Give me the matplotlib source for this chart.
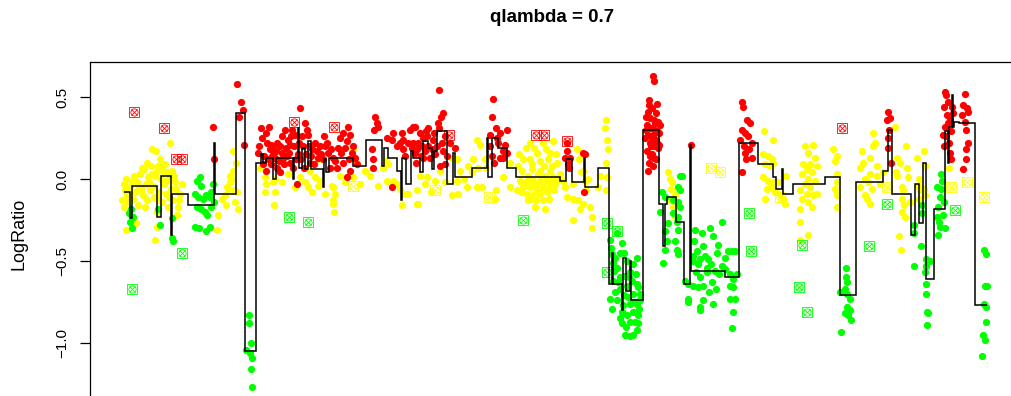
import matplotlib
matplotlib.use("Agg")
import matplotlib.pyplot as plt

plt.rcParams['font.family'] = ['Liberation Sans', 'DejaVu Sans']

title = "qlambda = 0.7"
ylabel = "LogRatio"
yticks = [-1.0, -0.5, 0.0, 0.5]
ytick_labels = ["\u22121.0", "\u22120.5", "0.0", "0.5"]

# ---- probes (position, log ratio) by status colour ----
red_pos = [213, 214, 237, 241, 243, 239, 244,
           261, 269, 262, 267, 271, 273, 277, 270, 273, 268, 271, 277, 280, 288, 290, 292, 295, 300,
           305, 307, 308, 303, 306, 310, 287, 290, 293, 297, 258, 264, 266, 275, 282, 284, 298, 301,
           312, 315, 318, 320, 282, 285, 279,
           325, 328, 333, 338, 340, 343, 347, 348, 350, 353, 355, 323, 330, 337, 343, 350, 347,
           375, 377, 374, 378, 372, 373, 373, 387, 392, 393, 397, 400, 403, 392, 413, 412, 415, 402,
           403, 410, 418, 421, 425, 428, 416, 420,
           439, 443, 441, 438, 439, 434, 428, 427, 426, 415, 413, 417, 422, 423, 433, 437, 442, 443,
           430, 440, 445, 455, 432, 445, 450,
           493, 492, 496, 490, 500, 507, 498, 503, 490, 507, 492, 500, 503, 494,
           567, 567, 570, 565, 568, 583, 585, 584, 569,
           653, 654, 649, 657, 648, 652, 656, 650, 654, 658, 647, 651, 655, 659, 648, 652, 656, 650,
           654, 658, 647, 652, 656, 649, 653, 645, 660, 646, 657,
           691,
           742, 743, 747, 750, 742, 745, 748, 752, 744, 749, 752, 746, 742, 740, 745,
           888, 890, 887, 889, 888, 888, 891,
           945, 946, 948, 944, 947, 950, 945, 951, 946, 949, 944, 950, 952, 953, 948, 943, 951,
           965, 963, 967, 962, 968, 965, 966, 968, 966, 966, 963,
           259, 263, 266, 272, 276, 280, 283, 286, 289, 291, 294, 296, 299, 302, 304, 309, 311, 314,
           317, 321, 324, 327, 331, 335, 341, 345, 349, 352, 357, 405, 408, 423, 435, 447, 497, 505,
           646, 649, 651, 653, 655, 657, 659, 650, 654, 648]
red_val = [0.32, 0.12, 0.58, 0.47, 0.42, 0.38, 0.21,
           0.31, 0.32, 0.25, 0.22, 0.21, 0.20, 0.22, 0.18, 0.17, 0.12, 0.09, 0.07, 0.04, 0.24, 0.21, 0.30, 0.27, 0.43,
           0.34, 0.30, 0.27, 0.20, 0.15, 0.10, 0.14, 0.10, 0.07, -0.03, 0.16, 0.14, 0.05, 0.13, 0.16, 0.09, 0.15, 0.12,
           0.18, 0.22, 0.13, 0.20, 0.26, 0.30, 0.11,
           0.20, 0.16, 0.13, 0.19, 0.25, 0.28, 0.23, 0.32, 0.27, 0.20, 0.13, 0.12, 0.07, 0.07, 0.10, 0.05, 0.01,
           0.38, 0.34, 0.30, 0.32, 0.18, 0.12, 0.07, 0.25, 0.24, 0.28, 0.20, 0.22, 0.18, -0.05, 0.32, 0.19, 0.16, 0.28,
           0.24, 0.30, 0.22, 0.14, 0.17, 0.20, 0.10, 0.28,
           0.54, 0.40, 0.38, 0.34, 0.31, 0.28, 0.31, 0.26, 0.29, 0.32, 0.22, 0.18, 0.20, 0.13, 0.24, 0.20, 0.22, 0.17,
           0.13, 0.08, 0.09, 0.19, 0.18, 0.26, 0.22,
           0.49, 0.38, 0.31, 0.27, 0.28, 0.30, 0.22, 0.17, 0.20, 0.16, 0.14, 0.13, 0.13, 0.10,
           0.22, 0.17, 0.13, 0.13, 0.09, 0.16, 0.15, -0.08, 0.07,
           0.63, 0.60, 0.48, 0.46, 0.41, 0.43, 0.40, 0.37, 0.36, 0.35, 0.33, 0.31, 0.30, 0.28, 0.27, 0.25, 0.24, 0.22,
           0.20, 0.19, 0.17, 0.15, 0.12, 0.10, 0.08, 0.25, 0.33, 0.38, 0.22,
           0.21,
           0.47, 0.44, 0.36, 0.34, 0.30, 0.28, 0.26, 0.22, 0.20, 0.18, 0.13, 0.12, 0.04, 0.24, 0.16,
           0.41, 0.37, 0.36, 0.30, 0.25, 0.19, 0.10,
           0.53, 0.51, 0.47, 0.44, 0.39, 0.36, 0.32, 0.29, 0.26, 0.22, 0.20, 0.16, 0.44, 0.40, 0.34, 0.27, 0.12,
           0.52, 0.45, 0.43, 0.39, 0.41, 0.35, 0.30, 0.22, 0.18, 0.12, 0.06,
           0.20, 0.09, 0.28, 0.14, 0.17, 0.20, 0.13, 0.19, 0.16, 0.26, 0.20, 0.12, 0.22, 0.26, 0.07, 0.20, 0.14, 0.09,
           0.17, 0.15, 0.26, 0.22, 0.18, 0.11, 0.16, 0.19, 0.12, 0.16, 0.09, 0.14, 0.22, 0.25, 0.15, 0.14, 0.25, 0.21,
           0.30, 0.45, 0.20, 0.27, 0.34, 0.29, 0.21, 0.14, 0.13, 0.05]

yellow_pos = [126, 124, 125, 127, 128, 124, 130, 132, 133, 135, 137, 138, 140, 141, 143, 144, 146, 147, 148, 150,
              151, 152, 153, 154, 155, 156, 157, 157, 159, 160, 161, 162, 163, 164, 165, 166, 167, 168, 169, 170,
              171, 172, 173, 175, 176, 177, 178, 180, 182, 155, 157, 136, 130, 122,
              217, 218, 222, 225, 226, 228, 230, 232, 233, 234, 235, 237, 238, 227, 236, 233, 230,
              260, 265, 266, 273, 275, 274, 265, 275, 295, 308, 318, 325, 300, 310, 315, 320, 333, 335, 333,
              353, 355, 353, 383, 387, 393, 397, 400, 405, 408, 402, 417, 322, 330, 318, 282, 288, 305, 312,
              340, 345, 365, 360, 370, 378, 386, 388, 332, 333, 334,
              418, 417, 427, 435, 440, 452, 457, 460, 457, 452, 458, 467, 477, 482, 472, 477, 480, 473, 478,
              485, 486, 496, 495, 510, 517, 503, 510, 445, 420, 425, 431, 464, 468,
              530, 543, 553, 550, 537, 523, 530, 540, 548, 557, 522, 532, 540, 550, 520, 527, 533, 540, 547,
              553, 523, 530, 537, 543, 550, 527, 533, 540, 547, 530, 543, 535, 545, 525, 535, 545, 555, 528,
              538, 518, 556,
              567, 573, 578, 583, 580, 590, 592, 592, 573, 563, 565, 573, 583, 585, 588, 577, 579, 581, 586, 560,
              606, 605, 607, 608, 606, 607, 606, 600, 598,
              668, 672, 671, 675, 670, 673, 675, 670,
              764, 773, 763, 768, 772, 765, 770, 773, 763, 768, 773, 767, 772, 775, 765, 778, 775, 780, 785, 783, 786,
              805, 813, 808, 815, 803, 810, 817, 807, 812, 802, 808, 815, 805, 810, 800, 807, 813, 802, 808, 812,
              800, 817, 800, 800, 808,
              833, 837, 835, 837, 837, 835, 837, 837,
              860, 863, 870, 873, 875, 873, 860, 865, 870, 877, 872, 865, 867, 870, 877, 880, 883, 862, 868,
              895, 897, 896, 897, 902, 903, 902, 904, 902, 905, 899, 901, 907, 908, 917, 919, 918, 920, 924, 925,
              924, 925, 919, 910, 949, 906, 900,
              519, 526, 534, 546, 552, 557, 521, 528, 536, 549, 554, 532, 544, 538, 551,
              126, 129, 134, 139, 142, 145, 149, 152, 158, 162, 166, 169, 174, 179, 147, 158]
yellow_val = [-0.31, -0.03, -0.07, -0.10, -0.14, -0.17, -0.05, -0.01, -0.12, -0.08, -0.02, -0.16, 0.03, -0.06, -0.10, 0.06, -0.03, -0.13, 0.01, -0.07,
              0.08, 0.18, -0.04, -0.11, 0.02, 0.17, -0.20, 0.05, -0.08, 0.12, 0.00, -0.14, 0.05, -0.03, 0.09, -0.09, 0.04, -0.17, 0.00, 0.22,
              -0.06, 0.05, -0.13, -0.02, -0.06, -0.22, -0.17, -0.09, -0.03, -0.37, -0.29, -0.27, -0.19, -0.13,
              -0.31, -0.22, -0.12, -0.10, -0.16, -0.06, -0.02, 0.00, 0.05, -0.07, -0.14, -0.08, -0.18, -0.05, 0.10, 0.17, 0.02,
              0.07, 0.01, -0.03, -0.02, 0.00, -0.16, -0.08, -0.08, -0.05, -0.05, -0.04, -0.09, 0.01, 0.05, 0.01, -0.01, -0.05, -0.09, -0.13,
              0.18, 0.12, 0.01, 0.07, -0.01, -0.01, -0.03, -0.06, -0.09, -0.09, -0.16, -0.15, 0.12, 0.07, 0.12, -0.02, 0.03, -0.02, -0.08,
              0.02, -0.02, 0.05, -0.03, 0.02, -0.04, 0.11, 0.09, -0.04, -0.15, -0.20,
              -0.15, -0.07, 0.01, -0.01, 0.05, 0.13, 0.12, 0.05, -0.01, -0.10, -0.09, -0.05, -0.05, -0.05, 0.04, 0.24, 0.21, 0.12, 0.07,
              0.12, 0.07, -0.07, -0.12, -0.05, -0.07, 0.01, 0.10, -0.02, 0.02, -0.03, -0.08, 0.00, 0.08,
              0.22, 0.22, 0.23, 0.16, 0.16, 0.12, 0.12, 0.11, 0.12, 0.10, 0.05, 0.06, 0.05, 0.05, -0.01, -0.01, -0.01, -0.01, -0.01,
              0.01, -0.05, -0.05, -0.06, -0.05, -0.05, -0.09, -0.10, -0.09, -0.08, -0.12, -0.13, -0.17, -0.18, -0.03, -0.03, 0.02, -0.03, 0.02,
              -0.07, 0.08, 0.15,
              -0.11, -0.12, -0.13, -0.15, -0.18, -0.17, -0.23, -0.30, -0.25, -0.01, -0.05, -0.03, 0.05, -0.01, 0.00, 0.18, 0.12, 0.04, -0.07, 0.03,
              0.36, 0.31, 0.24, 0.18, 0.10, 0.01, -0.07, 0.02, -0.05,
              0.04, -0.02, -0.06, -0.10, -0.13, -0.17, -0.23, 0.00,
              0.29, 0.24, 0.15, 0.14, 0.12, 0.09, 0.08, 0.10, 0.01, -0.01, -0.02, -0.06, -0.05, -0.08, -0.12, -0.02, -0.07, -0.10, -0.15, -0.12, 0.02,
              0.20, 0.21, 0.16, 0.13, 0.09, 0.09, 0.08, 0.06, 0.04, 0.03, 0.00, -0.01, -0.03, -0.05, -0.07, -0.09, -0.10, -0.12, -0.14, -0.17,
              -0.18, -0.09, -0.26, -0.37, -0.34,
              0.18, 0.14, 0.11, 0.03, -0.02, -0.06, -0.10, -0.17,
              0.07, 0.10, 0.13, 0.28, 0.22, 0.20, -0.05, 0.00, 0.03, 0.02, -0.06, -0.10, -0.12, -0.15, 0.08, -0.03, 0.04, 0.17, -0.02,
              0.32, 0.13, 0.04, 0.02, -0.05, -0.07, -0.12, -0.16, -0.20, -0.23, -0.35, -0.43, 0.07, 0.01, 0.13, 0.00, -0.04, -0.07, 0.17, 0.08,
              -0.06, -0.10, -0.12, -0.14, 0.07, 0.20, 0.10,
              0.15, 0.19, 0.19, 0.18, 0.08, 0.00, -0.08, -0.13, -0.13, -0.12, -0.07, 0.09, 0.08, 0.03, -0.02,
              0.00, -0.09, 0.02, -0.05, 0.07, -0.17, -0.02, 0.03, -0.12, 0.08, -0.01, -0.11, 0.02, -0.13, 0.10, 0.08]

green_pos = [129, 130, 132, 133, 131, 160, 172, 172, 173, 158, 197, 200, 201, 195, 198, 203, 206, 210, 211, 197,
             201, 205, 207, 211, 214, 195, 199, 206, 210, 213, 249, 249, 246, 250, 251, 252, 251, 252,
             610, 611, 612, 613, 622, 624, 627, 633, 637, 617, 620, 630, 637, 613, 620, 627, 633, 640, 638, 610,
             617, 623, 630, 637, 640, 612, 622, 627, 633, 638, 622, 630, 635, 638, 637, 625, 630, 633, 615, 625,
             617, 620,
             680, 682, 678, 680, 662, 665, 673, 678, 680, 673, 678, 677, 678, 665, 667, 665, 663, 675, 677, 678,
             685, 688, 660, 668,
             695, 702, 710, 722, 713, 703, 697, 693, 700, 708, 717, 722, 715, 707, 698, 693, 700, 707, 712, 703,
             698, 693, 688, 688, 700, 700, 713, 703, 728, 732, 735, 730, 733, 737, 730, 733, 730, 735, 733, 732,
             718, 725,
             846, 846, 847, 845, 840, 847, 850, 847, 850, 845, 848, 851, 841,
             914, 914, 914, 922, 922, 921, 926, 930, 926, 925, 926, 926, 927, 928, 927, 937, 941, 940, 938, 937,
             940, 945, 938, 942, 944, 943, 939, 941,
             984, 986, 985, 987, 984, 986, 986, 983, 985, 982,
             614, 618, 624, 628, 632, 636, 639, 626, 620, 615, 629, 634,
             696, 705, 711, 719, 694, 709, 716, 725]
green_val = [-0.21, -0.26, -0.30, -0.23, -0.18, -0.28, -0.24, -0.36, -0.38, -0.18, -0.01, 0.01, -0.04, -0.09, -0.11, -0.12, -0.10, -0.11, -0.08, -0.17,
             -0.18, -0.20, -0.22, -0.17, -0.14, -0.29, -0.30, -0.32, -0.29, -0.03, -0.83, -0.88, -1.04, -1.06, -1.00, -1.09, -1.16, -1.27,
             -0.37, -0.42, -0.46, -0.51, -0.39, -0.45, -0.50, -0.52, -0.48, -0.54, -0.60, -0.57, -0.64, -0.62, -0.67, -0.65, -0.70, -0.70, -0.66, -0.73,
             -0.74, -0.77, -0.76, -0.76, -0.74, -0.79, -0.81, -0.83, -0.81, -0.83, -0.88, -0.87, -0.87, -0.88, -0.92, -0.95, -0.96, -0.95, -0.69, -0.59,
             -0.33, -0.45,
             0.02, 0.02, -0.05, -0.07, -0.08, -0.11, -0.13, -0.14, -0.17, -0.21, -0.23, -0.26, -0.31, -0.32, -0.38, -0.43, -0.51, -0.38, -0.43, -0.46,
             -0.62, -0.64, -0.20, -0.27,
             -0.31, -0.33, -0.30, -0.26, -0.35, -0.41, -0.44, -0.47, -0.49, -0.49, -0.45, -0.53, -0.56, -0.54, -0.52, -0.50, -0.60, -0.57, -0.63, -0.65,
             -0.66, -0.65, -0.73, -0.75, -0.78, -0.80, -0.76, -0.74, -0.44, -0.44, -0.44, -0.58, -0.61, -0.58, -0.65, -0.66, -0.73, -0.73, -0.81, -0.91,
             -0.40, -0.55,
             -0.54, -0.60, -0.63, -0.67, -0.69, -0.70, -0.73, -0.78, -0.80, -0.82, -0.83, -0.86, -0.93,
             -0.28, -0.33, -0.53, -0.16, -0.21, -0.41, -0.49, -0.50, -0.53, -0.57, -0.64, -0.70, -0.81, -0.82, -0.89, -0.05, -0.06, -0.11, -0.17, -0.23,
             -0.29, -0.30, -0.34, -0.01, -0.14, -0.22, -0.26, 0.03,
             -0.43, -0.46, -0.65, -0.65, -0.76, -0.78, -0.87, -0.95, -0.98, -1.08,
             -0.56, -0.63, -0.71, -0.72, -0.62, -0.58, -0.79, -0.90, -0.85, -0.48, -0.60, -0.75,
             -0.57, -0.47, -0.52, -0.58, -0.38, -0.69, -0.67, -0.48]

# ---- outliers ----
out_red_pos = [134, 164, 176, 182, 294, 334, 449, 536, 544, 567, 842]
out_red_val = [0.41, 0.31, 0.12, 0.12, 0.35, 0.32, 0.27, 0.27, 0.27, 0.23, 0.31]
out_yellow_pos = [353, 435, 489, 711, 720, 780, 887, 951, 967, 984]
out_yellow_val = [-0.04, -0.07, -0.11, 0.07, 0.04, -0.11, -0.05, -0.05, -0.02, -0.11]
out_green_pos = [182, 132, 289, 308, 523, 607, 617, 607, 749, 751, 802, 799, 807, 869, 887, 955]
out_green_val = [-0.45, -0.67, -0.23, -0.26, -0.25, -0.27, -0.32, -0.57, -0.21, -0.44, -0.40, -0.66, -0.81, -0.41, -0.15, -0.19]

# ---- smoothed segmentation (start of each segment, level) ----
seg_start = [124, 130, 131.5, 157, 161, 171, 172, 188, 214, 215,
             236, 245, 256, 261, 263, 266, 273, 276, 293, 294,
             298, 299, 302, 305, 308, 311, 323, 324, 326, 329,
             353, 366, 382, 384, 388, 397, 401, 402, 406, 411,
             413, 420, 423, 428, 432, 434, 437, 447, 453, 455,
             472, 487, 488, 492, 498, 507, 516, 560, 566, 572,
             584, 585, 598, 609, 612, 613, 622, 623, 626, 630,
             631, 643, 659, 663, 665, 667, 676, 684, 690, 691,
             725, 739, 758, 773, 776, 782, 783, 793, 825, 840,
             856, 883, 888, 892, 911, 915, 919, 923, 926, 934,
             945, 948, 949, 952, 953, 954, 959, 975]
seg_level = [-0.08, -0.24, -0.04, -0.23, 0.02, -0.34, -0.09, -0.16, 0.22, -0.09,
             0.40, -1.05, 0.10, 0.15, 0.10, 0.13, 0.00, 0.13, 0.00, 0.13,
             0.31, 0.07, 0.19, 0.06, 0.23, 0.06, -0.05, 0.12, 0.04, 0.13,
             0.08, 0.24, 0.08, 0.19, 0.13, 0.05, -0.13, 0.13, -0.03, 0.17,
             0.13, 0.04, 0.23, 0.19, 0.06, 0.17, 0.29, -0.03, 0.16, 0.01,
             0.07, 0.25, 0.01, 0.25, 0.19, 0.07, 0.01, -0.01, 0.12, -0.02,
             0.13, -0.05, 0.07, -0.64, -0.45, -0.64, -0.80, -0.48, -0.68, -0.50,
             -0.74, 0.30, -0.15, -0.41, -0.15, -0.11, -0.26, -0.64, 0.21, -0.56,
             -0.60, 0.22, 0.09, 0.01, -0.06, 0.06, -0.09, -0.03, 0.01, -0.71,
             -0.02, 0.05, 0.30, -0.09, -0.34, -0.03, -0.27, 0.10, -0.61, -0.18,
             0.29, 0.10, 0.32, 0.51, 0.32, 0.35, 0.34, -0.77]
seg_end = 987

W, H = 1012, 396
fig = plt.figure(figsize=(W / 100, H / 100), dpi=100)
ax = fig.add_axes([90 / W, 0.0, (1015 - 90) / W, (396 - 62) / H])
ax.set_xlim(90, 1015)
ax.set_ylim((179 - 396) / 164, (179 - 62) / 164)

RED, YEL, GRN = '#FF0000', '#FFFF00', '#00FF00'
ms = 5.2
ax.plot(yellow_pos, yellow_val, 'o', color=YEL, ms=ms, mew=0, zorder=2)
ax.plot(green_pos, green_val, 'o', color=GRN, ms=ms, mew=0, zorder=2)
ax.plot(red_pos, red_val, 'o', color=RED, ms=ms, mew=0, zorder=2)

for p, v, c in [(out_red_pos, out_red_val, RED), (out_yellow_pos, out_yellow_val, YEL),
                (out_green_pos, out_green_val, GRN)]:
    ax.plot(p, v, 's', ms=6.6, mfc='none', mec=c, mew=0.6, zorder=3)
    ax.plot(p, v, 'o', ms=5.2, mfc='none', mec=c, mew=0.6, zorder=3)
    ax.plot(p, v, 'x', ms=4.2, mec=c, mew=0.6, zorder=3)

ax.stairs(seg_level, seg_start + [seg_end], baseline=None, color='black', lw=1.1, zorder=4)

ax.spines['bottom'].set_visible(False)
ax.spines['right'].set_visible(False)
for s in ('left', 'top'):
    ax.spines[s].set_linewidth(0.9)
ax.set_xticks([])
ax.set_yticks(yticks)
ax.set_yticklabels(ytick_labels, rotation=90, va='center', fontsize=11)
ax.tick_params(axis='y', length=7, width=0.9, pad=8)
ax.set_ylabel(ylabel, fontsize=13, va='center')
ax.yaxis.set_label_coords(-(90 - 19) / (1015 - 90), 1 - (234 - 62) / 334)

fig.text(552 / W, 1 - 18 / H, title, ha='center', va='center', fontsize=13.5, fontweight='bold')

fig.savefig('out.png', dpi=100)
